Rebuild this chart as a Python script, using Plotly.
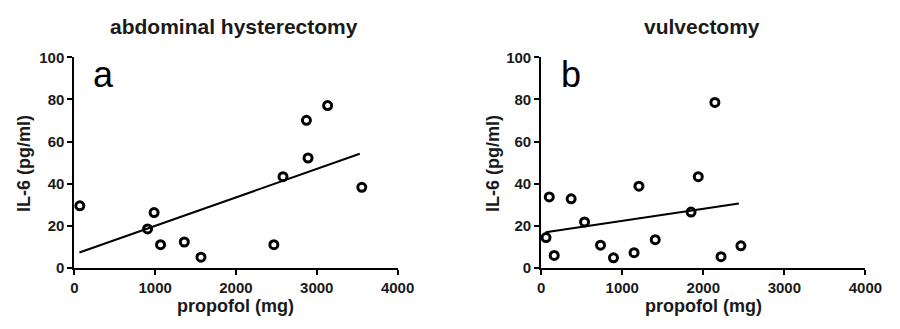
import numpy as np
import plotly.graph_objects as go

# ---- data ----
hyst_propofol = [68, 906, 987, 1067, 1361, 1567, 2469, 2582, 2872, 2892, 3134, 3557]
hyst_il6 = [29.5, 18.5, 26.3, 11.0, 12.3, 5.1, 11.0, 43.3, 70.1, 52.2, 77.1, 38.3]

vulv_propofol = [60, 100, 161, 370, 535, 732, 892, 1146, 1206, 1407, 1849, 1938, 2143, 2219, 2464]
vulv_il6 = [14.4, 33.7, 5.9, 32.8, 21.8, 10.8, 4.8, 7.2, 38.8, 13.4, 26.5, 43.3, 78.6, 5.3, 10.5]

panel_titles = ["abdominal hysterectomy", "vulvectomy"]
panel_letters = ["a", "b"]
x_title = "propofol (mg)"
y_title = "IL-6 (pg/ml)"
x_ticks = [0, 1000, 2000, 3000, 4000]
y_ticks = [0, 20, 40, 60, 80, 100]

W, H = 900, 329
def px(x):
    return x / W
def py(y):
    return 1 - y / H

TXT = "#1a1a1a"
FONT = "Liberation Sans, Arial, sans-serif"

fig = go.Figure()

panels = [
    (hyst_propofol, hyst_il6, "x", "y"),
    (vulv_propofol, vulv_il6, "x2", "y2"),
]
for xs, ys, xa, ya in panels:
    xs_a = np.array(xs, dtype=float)
    ys_a = np.array(ys, dtype=float)
    slope, icpt = np.polyfit(xs_a, ys_a, 1)
    lx = np.array([xs_a.min() - 5, xs_a.max() - 25])
    fig.add_trace(go.Scatter(x=lx, y=slope * lx + icpt, mode="lines",
                             line=dict(color="black", width=2),
                             xaxis=xa, yaxis=ya, showlegend=False,
                             hoverinfo="skip"))
    fig.add_trace(go.Scatter(x=xs, y=ys, mode="markers",
                             marker=dict(symbol="circle-open", size=8,
                                         color="black", line=dict(width=3, color="black")),
                             xaxis=xa, yaxis=ya, showlegend=False, cliponaxis=False))

axis_common = dict(showline=True, linecolor="black", linewidth=2,
                   ticks="outside", ticklen=5, tickwidth=2, tickcolor="black",
                   showgrid=False, zeroline=False,
                   tickfont=dict(family=FONT, size=15, color=TXT, weight="bold"))
ydom = [py(273), py(51)]
fig.update_layout(
    width=W, height=H,
    margin=dict(l=0, r=0, t=0, b=0),
    paper_bgcolor="white", plot_bgcolor="white",
    xaxis=dict(domain=[px(72), px(403)], range=[0, 4000], tickvals=x_ticks, anchor="y", **axis_common),
    yaxis=dict(domain=ydom, range=[0, 100], tickvals=y_ticks, anchor="x", **axis_common),
    xaxis2=dict(domain=[px(550), px(882)], range=[0, 4000], tickvals=x_ticks, anchor="y2", **axis_common),
    yaxis2=dict(domain=ydom, range=[0, 100], tickvals=y_ticks, anchor="x2", **axis_common),
)

bold = dict(family=FONT, color=TXT, weight="bold")
annots = []
title_x = [236, 715]
xt_x = [237, 716]
yt_x = [20, 500]
letter_x = [102, 581]
for i in range(2):
    annots.append(dict(text=panel_titles[i], x=px(title_x[i]), y=py(18),
                       xref="paper", yref="paper", showarrow=False,
                       xanchor="center", yanchor="middle", font=dict(size=21, **bold)))
    annots.append(dict(text=x_title, x=px(xt_x[i]), y=py(313),
                       xref="paper", yref="paper", showarrow=False,
                       xanchor="center", yanchor="middle", font=dict(size=18, **bold)))
    annots.append(dict(text=y_title, x=px(yt_x[i]), y=py(163),
                       xref="paper", yref="paper", showarrow=False, textangle=-90,
                       xanchor="center", yanchor="middle", font=dict(size=18, **bold)))
    annots.append(dict(text=panel_letters[i], x=px(letter_x[i]), y=py(69),
                       xref="paper", yref="paper", showarrow=False,
                       xanchor="center", yanchor="middle",
                       font=dict(size=36, family=FONT, color="black")))
fig.update_layout(annotations=annots)

fig.write_html("out.html", config={"displayModeBar": False},
               post_script="document.body.style.margin='0';document.body.style.overflow='hidden';")
